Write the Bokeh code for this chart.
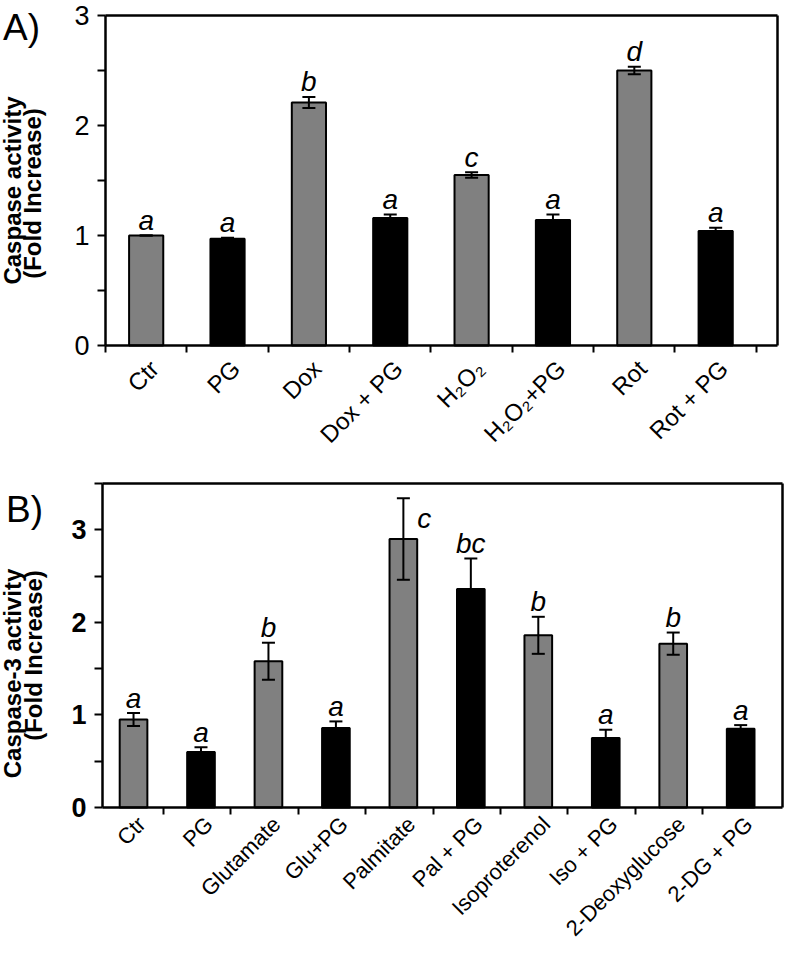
import math
from bokeh.plotting import figure
from bokeh.layouts import column
from bokeh.models import Range1d, FixedTicker, ColumnDataSource, LinearAxis
from bokeh.core.properties import value
from bokeh.embed import file_html
from bokeh.resources import INLINE

# ---------------- Panel A data ----------------
a_labels = ["Ctr", "PG", "Dox", "Dox + PG", "H\u2082O\u2082", "H\u2082O\u2082+PG", "Rot", "Rot + PG"]
a_values = [1.00, 0.97, 2.21, 1.16, 1.55, 1.14, 2.50, 1.04]
a_errors = [0.00, 0.01, 0.05, 0.03, 0.025, 0.05, 0.035, 0.03]
a_letters = ["a", "a", "b", "a", "c", "a", "d", "a"]
a_fill = ["gray", "black", "gray", "black", "gray", "black", "gray", "black"]
a_title = ["Caspase activity", "(Fold Increase)"]
a_yticks = [0, 1, 2, 3]
a_ymax = 3.0

# ---------------- Panel B data ----------------
b_labels = ["Ctr", "PG", "Glutamate", "Glu+PG", "Palmitate", "Pal + PG",
            "Isoproterenol", "Iso + PG", "2-Deoxyglucose", "2-DG + PG"]
b_values = [0.95, 0.60, 1.58, 0.86, 2.90, 2.36, 1.86, 0.75, 1.77, 0.85]
b_errors = [0.07, 0.05, 0.20, 0.07, 0.44, 0.33, 0.20, 0.09, 0.12, 0.04]
b_letters = ["a", "a", "b", "a", "c", "bc", "b", "a", "b", "a"]
b_fill = ["gray", "black", "gray", "black", "gray", "black", "gray", "black", "gray", "black"]
b_title = ["Caspase-3 activity", "(Fold Increase)"]
b_yticks = [0, 1, 2, 3]
b_ymax = 3.5

COLORS = {"gray": "#808080", "black": "#000000"}
FONT = "Liberation Sans"
W = 784


class Panel:
    """A figure whose frame covers the whole canvas; axes are pinned with fixed_location."""

    def __init__(self, H, box, xlim, ylim):
        left, right, top, bottom = box
        self.H = H
        self.pxu = (right - left) / (xlim[1] - xlim[0])
        self.pyu = (bottom - top) / (ylim[1] - ylim[0])
        xr = (xlim[0] - left / self.pxu, xlim[0] + (W - left) / self.pxu)
        yr = (ylim[0] - (H - bottom) / self.pyu, ylim[1] + top / self.pyu)
        self.xr, self.yr = xr, yr
        self.xlim, self.ylim = xlim, ylim
        p = figure(width=W, height=H, x_range=Range1d(*xr), y_range=Range1d(*yr),
                   x_axis_location=None, y_axis_location=None,
                   output_backend="svg", toolbar_location=None,
                   min_border_left=0, min_border_right=0, min_border_top=0, min_border_bottom=0)
        p.xgrid.visible = False
        p.ygrid.visible = False
        p.outline_line_color = None
        self.p = p

    def data_x(self, cx):
        return self.xr[0] + cx / self.pxu

    def data_y(self, cy):
        return self.yr[1] - cy / self.pyu


def base_axis(ax):
    ax.axis_line_width = 2.5
    ax.axis_line_color = "black"
    ax.major_tick_line_width = 2
    ax.minor_tick_line_width = 2
    ax.major_tick_in = 0
    ax.minor_tick_in = 0
    ax.major_label_text_font = FONT
    ax.major_label_text_color = "black"


def build_axes(P, labels, label_shift, bound_ticks, yticks, yminor, label_size, standoff, ytick_bold):
    p = P.p
    (x0, x1), (y0, y1) = P.xlim, P.ylim
    n = len(labels)
    labpos = [i + 0.5 + label_shift for i in range(n)]
    xa = LinearAxis(fixed_location=y0, bounds=(x0, x1),
                    ticker=FixedTicker(ticks=labpos, minor_ticks=bound_ticks))
    base_axis(xa)
    xa.major_tick_out = 0
    xa.minor_tick_out = 7
    xa.major_label_overrides = {c: l for c, l in zip(labpos, labels)}
    xa.major_label_orientation = math.pi / 4
    xa.major_label_text_font_size = label_size
    xa.major_label_standoff = standoff
    p.add_layout(xa, "below")

    ya = LinearAxis(fixed_location=x0, bounds=(y0, y1),
                    ticker=FixedTicker(ticks=yticks, minor_ticks=yminor))
    base_axis(ya)
    ya.major_tick_out = 8
    ya.minor_tick_out = 8
    ya.major_label_text_font_size = "27px"
    ya.major_label_standoff = 8
    if ytick_bold:
        ya.major_label_text_font_style = "bold"
    p.add_layout(ya, "left")

    top = LinearAxis(fixed_location=y1, bounds=(x0, x1), ticker=FixedTicker(ticks=[]),
                     axis_line_width=2.5, major_tick_out=0, minor_tick_out=0,
                     major_label_text_font_size="0px")
    right = LinearAxis(fixed_location=x1, bounds=(y0, y1), ticker=FixedTicker(ticks=[]),
                       axis_line_width=2.5, major_tick_out=0, minor_tick_out=0,
                       major_label_text_font_size="0px")
    p.add_layout(top, "above")
    p.add_layout(right, "right")


def draw_bars(P, values, errors, letters, fills, letter_dx, letter_special, bar_w):
    p = P.p
    n = len(values)
    xs = [i + 0.5 for i in range(n)]
    src = ColumnDataSource(dict(x=xs, top=values, fill=[COLORS[f] for f in fills]))
    p.vbar(x="x", top="top", bottom=0, width=bar_w, source=src,
           fill_color="fill", line_color="black", line_width=2)
    cap = 6.5 / P.pxu
    lo = [v - e for v, e in zip(values, errors)]
    hi = [v + e for v, e in zip(values, errors)]
    p.segment(x0=xs, y0=lo, x1=xs, y1=hi, line_color="black", line_width=2)
    p.segment(x0=[x - cap for x in xs], y0=hi, x1=[x + cap for x in xs], y1=hi,
              line_color="black", line_width=2)
    p.segment(x0=[x - cap for x in xs], y0=lo, x1=[x + cap for x in xs], y1=lo,
              line_color="black", line_width=2)
    ly = [v if sp else h for h, v, sp in zip(hi, values, letter_special)]
    lyo = [-21 if sp else -15 for sp in letter_special]
    lsrc = ColumnDataSource(dict(x=xs, y=ly, t=letters, xo=letter_dx, yo=lyo))
    p.text(x="x", y="y", text="t", x_offset="xo", y_offset="yo", source=lsrc,
           text_font=value(FONT), text_font_style="italic", text_font_size="28px",
           text_align="center", text_baseline="middle", text_color="black")


def side_texts(P, items):
    for txt, cx, cy, size, bold, ang in items:
        P.p.text(x=[P.data_x(cx)], y=[P.data_y(cy)], text=[txt], angle=ang,
                 text_font=value(FONT), text_font_style="bold" if bold else "normal",
                 text_font_size=size, text_align="center", text_baseline="middle",
                 text_color="black")


# ---------------- Figure A ----------------
HA = 447
nA = len(a_values)
PA = Panel(HA, (105, 777, 15, 345), (0.0, 8.26), (0.0, a_ymax))
build_axes(PA, a_labels, 0.1, list(range(0, nA + 1)), a_yticks, [0.5, 1.5, 2.5], "24px", 12, False)
draw_bars(PA, a_values, a_errors, a_letters, a_fill, [0] * nA, [False] * nA, 0.42)
side_texts(PA, [("A)", 21, 27, "37px", False, 0),
                (a_title[0], 12, 190, "24px", True, math.pi / 2),
                (a_title[1], 32, 193, "24px", True, math.pi / 2)])

# ---------------- Figure B ----------------
HB = 498
nB = len(b_values)
PB = Panel(HB, (102, 782, 36, 360), (0.04, 10.12), (0.0, b_ymax))
build_axes(PB, b_labels, 0.12, [i + 0.94 for i in range(nB - 1)], b_yticks,
           [0.5, 1.5, 2.5, 3.5], "22px", 6, True)
b_dx = [0] * nB
b_special = [False] * nB
b_dx[4] = 21
b_special[4] = True
draw_bars(PB, b_values, b_errors, b_letters, b_fill, b_dx, b_special, 0.41)
side_texts(PB, [("B)", 24, 62, "37px", False, 0),
                (b_title[0], 12, 226, "24px", True, math.pi / 2),
                (b_title[1], 33, 208, "24px", True, math.pi / 2)])

layout = column(PA.p, PB.p)
open("out.html", "w").write(file_html(layout, INLINE))
